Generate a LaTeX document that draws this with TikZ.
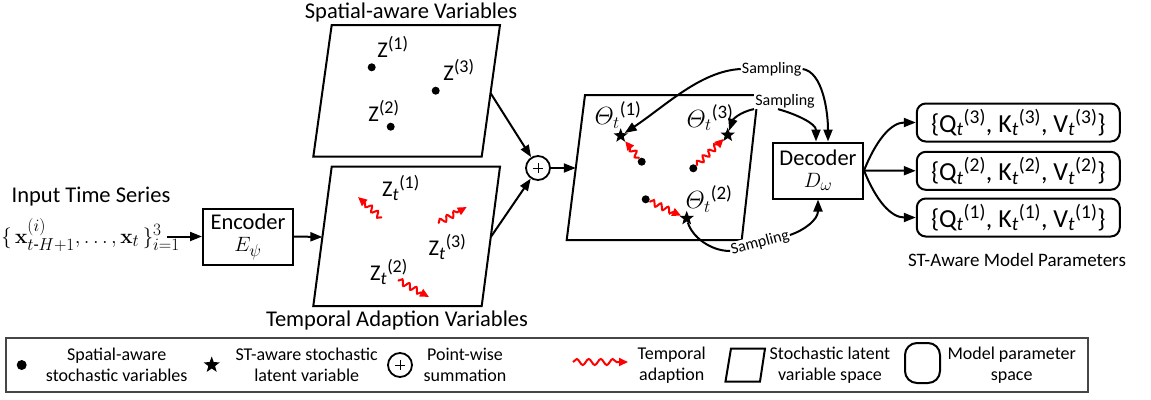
\documentclass[tikz,border=0pt]{standalone}
\usepackage{amsmath}
\usepackage[no-math]{fontspec}
\setmainfont{Carlito}
\usetikzlibrary{arrows.meta,decorations.pathmorphing,shapes.geometric,calc}
\DeclareMathSizes{22.5}{22.5}{18}{13}
\DeclareMathSizes{24}{24}{19}{14}
\DeclareMathSizes{26}{26}{19.5}{14}
\DeclareMathSizes{22}{22}{17}{12}
\newcommand{\qkvgroup}[1]{\{Q$_{\text{\itshape t}}{}^{\text{(#1)}}$, K$_{\text{\itshape t}}{}^{\text{(#1)}}$, V$_{\text{\itshape t}}{}^{\text{(#1)}}$\}}
\newcommand{\ztlab}[1]{Z$_{\text{\itshape t}}{}^{\text{(#1)}}$}
\begin{document}
\begin{tikzpicture}[x=1pt,y=-1pt,
  every node/.style={inner sep=0pt},
  big/.style={font=\fontsize{22.5}{22}\selectfont},
  leg/.style={font=\fontsize{18}{21}\selectfont, align=center},
  samp/.style={font=\fontsize{16}{18}\selectfont, fill=white, inner sep=1pt},
  conn/.style={line width=2pt, -{Triangle[length=12pt,width=9pt]}},
  plainline/.style={line width=2pt},
  space/.style={line width=2pt, line join=miter},
  wig/.style={red, line width=2pt, decorate,
    decoration={snake, amplitude=2.8pt, segment length=8pt, pre length=1pt, post length=8pt},
    -{Triangle[length=9pt,width=8pt]}},
  legwig/.style={red, line width=2pt, decorate,
    decoration={snake, amplitude=3pt, segment length=12pt, pre length=0pt, post length=9pt},
    -{Triangle[length=9pt,width=8pt]}},
  dotnode/.style={circle, fill=black, minimum size=8pt},
  starnode/.style={star, star points=5, star point ratio=2.4, fill=black, minimum size=15pt},
  plusnode/.style={circle, draw, line width=1.8pt, minimum size=24pt,
    path picture={\draw[line width=1pt]
      ([xshift=-5pt]path picture bounding box.center) -- ([xshift=5pt]path picture bounding box.center)
      ([yshift=-5pt]path picture bounding box.center) -- ([yshift=5pt]path picture bounding box.center);}},
  boxnode/.style={draw, line width=2pt, minimum width=90pt, minimum height=56pt, align=center, font=\fontsize{22.5}{22}\selectfont},
  qbox/.style={draw, line width=2pt, rounded corners=9pt, minimum width=203pt, minimum height=38pt, font=\fontsize{26}{28}\selectfont}
]
\useasboundingbox (0,0) rectangle (1151,399);

% ---------- input and encoder ----------
\node[big] (its) at (91,197) {Input Time Series};
\node[anchor=base east, font=\fontsize{22}{24}\selectfont] (xin) at (180,243)
  {$\{\,\mathbf{x}^{(i)}_{t\text{-}H+1},\ldots,\mathbf{x}_t\,\}^{3}_{i=1}$};
\node[boxnode] (enc) at (248,236.5) {Encoder\\$E_{\psi}$};
\draw[conn] ([xshift=-13pt]xin.east |- enc.west) -- (enc.west);

% ---------- spatial-aware space ----------
\draw[space] (331.7,25) -- (500,25) -- (481.7,156.7) -- (313.3,156.7) -- cycle;
\node[big] (spt) at (411,13) {Spatial-aware Variables};
\node[dotnode] (d1) at (371.7,67.3) {};
\node[dotnode] (d3) at (435.7,90.7) {};
\node[dotnode] (d2) at (390.7,126.7) {};
\node[big] (z1) at (393,47) {Z$^{\text{(1)}}$};
\node[big] (z3) at (459,70) {Z$^{\text{(3)}}$};
\node[big] (z2) at (384,111) {Z$^{\text{(2)}}$};
\coordinate (pAout) at (490.5,93);

% ---------- temporal adaption space ----------
\draw[space] (331.7,166.7) -- (500,166.7) -- (481.7,306) -- (313.3,306) -- cycle;
\node[big] (tav) at (397,320) {Temporal Adaption Variables};
\node[big] (zt1) at (401,188) {\ztlab{1}};
\node[big] (zt3) at (447.5,247) {\ztlab{3}};
\node[big] (zt2) at (389,272) {\ztlab{2}};
\coordinate (w1a) at (381.7,218); \coordinate (w1b) at (358,197);
\coordinate (w3a) at (438,223);   \coordinate (w3b) at (466.7,207);
\coordinate (w2a) at (398,280);   \coordinate (w2b) at (429,297);
\draw[wig] (w1a) -- (w1b);
\draw[wig] (w3a) -- (w3b);
\draw[wig] (w2a) -- (w2b);
\coordinate (pBin) at (322.4,237);
\coordinate (pBout) at (490.8,237);
\draw[conn] (enc.east) -- (pBin);

% ---------- summation ----------
\node[plusnode] (plus) at (538,168) {};
\draw[conn] (pAout) -- (plus);
\draw[conn] (pBout) -- (plus);

% ---------- ST-aware space ----------
\draw[space] (585,95) -- (758,95) -- (741.7,240) -- (566.7,240) -- cycle;
\coordinate (pMin) at (575.8,168);
\draw[conn] (plus) -- (pMin);
\node[font=\fontsize{24}{24}\selectfont] (th1) at (618,115) {$\varTheta_{t}{}^{\text{(1)}}$};
\node[font=\fontsize{24}{24}\selectfont] (th3) at (710,117.5) {$\varTheta_{t}{}^{\text{(3)}}$};
\node[font=\fontsize{24}{24}\selectfont] (th2) at (709,199) {$\varTheta_{t}{}^{\text{(2)}}$};
\node[dotnode] (m1) at (641.7,161.7) {};
\node[dotnode] (m3) at (693.3,168.3) {};
\node[dotnode] (m2) at (645.7,199.3) {};
\node[starnode] (s1) at (620.7,135.7) {};
\node[starnode] (s3) at (727.7,135) {};
\node[starnode] (s2) at (686.7,218.3) {};
\draw[wig] (m1) -- (s1);
\draw[wig] (m3) -- (s3);
\draw[wig] (m2) -- (s2);

% ---------- decoder ----------
\node[boxnode] (dec) at (818,170.5) {Decoder\\$D_{\omega}$};

% ---------- sampling ----------
\node[samp] (samp1) at (771.7,69) {Sampling};
\node[samp] (samp2) at (785,101) {Sampling};
\node[samp, rotate=15] (samp3) at (760,243) {Sampling};
\draw[conn] (samp1.west) .. controls +(-40,2) and +(45,-30) .. (s1);
\draw[conn] (samp1.east) .. controls +(20,3) and +(0,-30) .. ([xshift=10pt]dec.north);
\draw[conn] (samp2.south west) .. controls +(-15,3) and +(5,-15) .. (s3);
\draw[conn] ([xshift=-7pt]samp2.south) .. controls +(18,5) and +(0,-18) .. ([xshift=-2pt]dec.north);
\draw[plainline] (s2) .. controls +(5,18) and +(-20,0) .. (samp3.west);
\draw[conn] (samp3.east) .. controls +(15,-5) and +(0,20) .. (dec.south);

% ---------- model parameters ----------
\node[qbox] (q3) at (1018.3,122.5) {\qkvgroup{3}};
\node[qbox] (q2) at (1018.3,170.8) {\qkvgroup{2}};
\node[qbox] (q1) at (1018.3,217.5) {\qkvgroup{1}};
\draw[conn] (dec.east) .. controls +(12,-30) and +(-25,0) .. (q3.west);
\draw[conn] (dec.east) -- (q2.west);
\draw[conn] (dec.east) .. controls +(12,30) and +(-25,0) .. (q1.west);
\node[font=\fontsize{19}{20}\selectfont] (stamp) at (1017,260) {ST-Aware Model Parameters};

% ---------- legend ----------
\draw[gray!55!black, line width=1.6pt] (6,338) rectangle (1088,392);
\node[dotnode, minimum size=10pt] (ldot) at (21.7,365) {};
\node[leg] (ldott) at (116.7,365) {Spatial-aware\\stochastic variables};
\node[starnode, minimum size=17pt] (lstar) at (211.7,365) {};
\node[leg] (lstart) at (306.7,365) {ST-aware stochastic\\latent variable};
\node[plusnode] (lplus) at (400,365) {};
\node[leg] (lplust) at (465,365) {Point-wise\\summation};
\coordinate (lwa) at (573,362); \coordinate (lwb) at (628,362);
\draw[legwig] (lwa) -- (lwb);
\node[leg] (lwigt) at (671.7,365) {Temporal\\adaption};
\draw[space] (731,348.5) -- (765,348.5) -- (760,381.5) -- (725.5,381.5) -- cycle;
\node[leg] (lpart) at (830,365) {Stochastic latent\\variable space};
\draw[line width=2pt, rounded corners=12pt] (905,343) rectangle (940,383);
\node[leg] (lrect) at (1011.7,365) {Model parameter\\space};
\end{tikzpicture}
\end{document}
